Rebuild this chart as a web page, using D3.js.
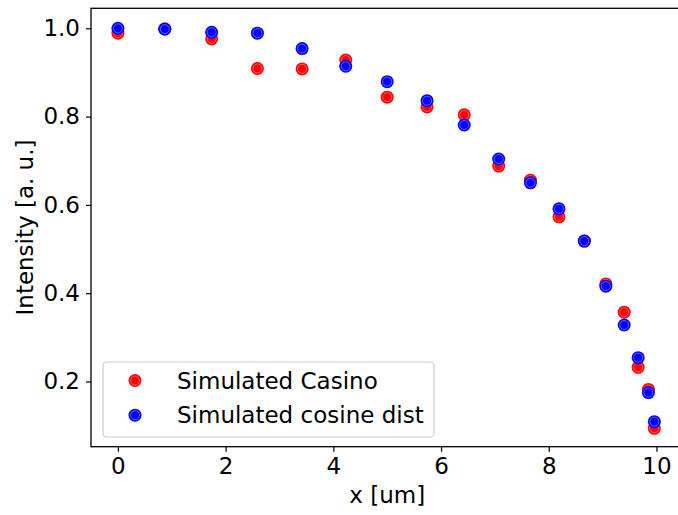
<!DOCTYPE html>
<html>
<head>
<meta charset="utf-8">
<script src="https://cdn.jsdelivr.net/npm/d3@7"></script>
<style>
  html, body { margin: 0; padding: 0; background: #fff; }
  svg { display: block; font-family: "DejaVu Sans", sans-serif; }
</style>
</head>
<body>
<svg id="chart" width="678" height="515"></svg>
<script>
// Lateral position along the sample (um)
const xPositions = [0, 0.87, 1.74, 2.59, 3.42, 4.23, 5.0, 5.74, 6.43, 7.07, 7.66, 8.19, 8.66, 9.06, 9.40, 9.66, 9.85, 9.96];
// Normalised intensity, Casino simulation
const casinoValues = [0.989, 0.999, 0.976, 0.909, 0.908, 0.928, 0.844, 0.822, 0.804, 0.688, 0.656, 0.573, 0.518, 0.421, 0.357, 0.232, 0.182, 0.094];
// Normalised intensity, cosine distribution simulation
const cosineValues = [1.0, 0.998, 0.991, 0.989, 0.954, 0.914, 0.879, 0.836, 0.781, 0.704, 0.650, 0.591, 0.518, 0.416, 0.328, 0.254, 0.175, 0.109];

const xTicks = [0, 2, 4, 6, 8, 10];
const yTicks = [0.2, 0.4, 0.6, 0.8, 1.0];

const seriesNames = ["Simulated Casino", "Simulated cosine dist"];
const seriesColors = ["#ff0000", "#0000ff"];

const svg = d3.select("#chart");
const plot = { left: 91, right: 683.4, top: 8.3, bottom: 446.7 };

const x = d3.scaleLinear().domain([-0.5, 10.5]).range([plot.left, plot.right]);
const y = d3.scaleLinear().domain([0.0523, 1.0453]).range([plot.bottom, plot.top]);

const fontSize = 23;

// Axes
const xAxis = svg.append("g")
  .attr("transform", `translate(0,${plot.bottom})`)
  .call(d3.axisBottom(x).tickValues(xTicks).tickFormat(d3.format("d")).tickSize(5).tickPadding(6));
const yAxis = svg.append("g")
  .attr("transform", `translate(${plot.left},0)`)
  .call(d3.axisLeft(y).tickValues(yTicks).tickFormat(d3.format(".1f")).tickSize(5).tickPadding(6));

[xAxis, yAxis].forEach(g => {
  g.select(".domain").remove();
  g.selectAll(".tick line").attr("stroke", "#000").attr("stroke-width", 1.2);
  g.selectAll(".tick text")
    .attr("fill", "#000")
    .style("font-size", fontSize + "px")
    .style("font-family", "DejaVu Sans, sans-serif");
});

// Frame
svg.append("rect")
  .attr("x", plot.left).attr("y", plot.top)
  .attr("width", plot.right - plot.left).attr("height", plot.bottom - plot.top)
  .attr("fill", "none").attr("stroke", "#000").attr("stroke-width", 1.3);

// Points
const series = [casinoValues, cosineValues];
function drawMarker(g, cx, cy, color) {
  g.append("circle").attr("cx", cx).attr("cy", cy).attr("r", 6.5).attr("fill", color);
  g.append("circle").attr("cx", cx).attr("cy", cy).attr("r", 4.5)
    .attr("fill", "none").attr("stroke", "rgba(255,255,255,0.45)").attr("stroke-width", 0.8);
}
series.forEach((vals, si) => {
  const g = svg.append("g");
  vals.forEach((v, i) => drawMarker(g, x(xPositions[i]), y(v), seriesColors[si]));
});

// Axis labels
svg.append("text")
  .attr("x", (plot.left + plot.right) / 2).attr("y", 503)
  .attr("text-anchor", "middle")
  .style("font-size", fontSize + "px")
  .text("x [um]");
svg.append("text")
  .attr("transform", `translate(33,${(plot.top + plot.bottom) / 2}) rotate(-90)`)
  .attr("text-anchor", "middle")
  .style("font-size", fontSize + "px")
  .text("Intensity [a. u.]");

// Legend
const legend = svg.append("g");
legend.append("rect")
  .attr("x", 103).attr("y", 362).attr("width", 331).attr("height", 75)
  .attr("rx", 4).attr("ry", 4)
  .attr("fill", "rgba(255,255,255,0.8)").attr("stroke", "#cccccc").attr("stroke-width", 1.2);
seriesNames.forEach((name, i) => {
  const cy = 380.5 + i * 34.7;
  drawMarker(legend, 135, cy, seriesColors[i]);
  legend.append("text")
    .attr("x", 177).attr("y", cy + 8)
    .style("font-size", fontSize + "px")
    .text(name);
});
</script>
</body>
</html>
